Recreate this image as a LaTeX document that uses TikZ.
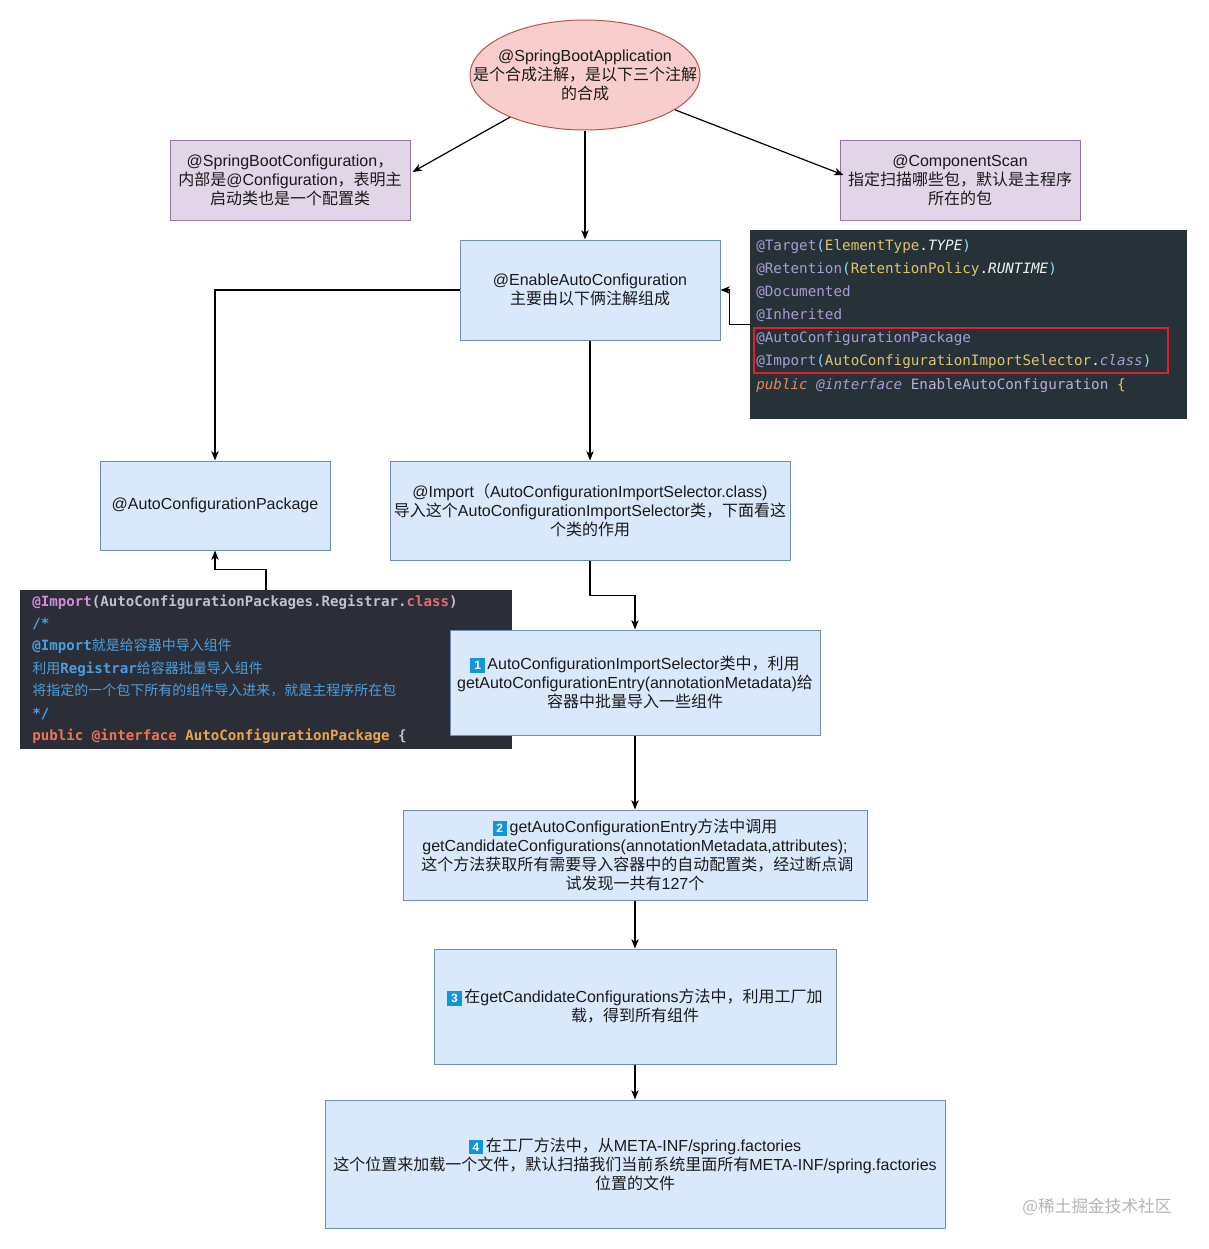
\documentclass[tikz,border=0pt]{standalone}
\usepackage{fontspec}
\setmainfont{Liberation Sans}
\newfontfamily\zhfont{Noto Sans CJK SC}
\newfontfamily\monofont{DejaVu Sans Mono}
\usetikzlibrary{arrows.meta,calc,shapes.geometric}
\definecolor{bfill}{HTML}{DAE8FC}
\definecolor{bstroke}{HTML}{6C8EBF}
\definecolor{pfill}{HTML}{E1D5E7}
\definecolor{pstroke}{HTML}{9673A6}
\definecolor{rfill}{HTML}{F8CECC}
\definecolor{rstroke}{HTML}{B85450}
\definecolor{txt}{HTML}{1A1A1A}
\definecolor{codebgA}{HTML}{263238}
\definecolor{codebgB}{HTML}{2B2E36}
\definecolor{ann}{HTML}{A99BD6}
\definecolor{par}{HTML}{89DDFF}
\definecolor{typ}{HTML}{E2C26E}
\definecolor{wht}{HTML}{EEF2F4}
\definecolor{kwo}{HTML}{E08A5E}
\definecolor{ename}{HTML}{B8B0DC}
\definecolor{redbox}{HTML}{E0202A}
\definecolor{imp}{HTML}{D58BDD}
\definecolor{gry}{HTML}{BCC3CE}
\definecolor{cls}{HTML}{E06C75}
\definecolor{cmt}{HTML}{4A9EE0}
\definecolor{kwr}{HTML}{EC7458}
\definecolor{cname}{HTML}{E8A54E}
\definecolor{badgeblue}{HTML}{1296DB}
\definecolor{wmark}{HTML}{B4B4B4}
\newcommand{\zh}[1]{{\zhfont #1}}
\newcommand{\cc}[2]{\textcolor{#1}{#2}}
\newcommand{\mainsz}{\fontsize{12}{14.3}\selectfont}
\newcommand{\badge}[1]{{\fboxsep=1pt\colorbox{badgeblue}{\rule[-1.4pt]{0pt}{9pt}\makebox[8.8pt]{\color{white}\fontsize{9}{9}\selectfont\bfseries #1}}}\,}
\begin{document}
\begin{tikzpicture}[x=0.75pt,y=-0.75pt,
  bluebox/.style={rectangle, draw=bstroke, fill=bfill, line width=0.75pt, inner sep=0pt, align=center, font=\mainsz, text=txt},
  purplebox/.style={rectangle, draw=pstroke, fill=pfill, line width=0.75pt, inner sep=0pt, align=center, font=\mainsz, text=txt},
  codeA/.style={anchor=base west, inner sep=0pt, font=\monofont\fontsize{10.7}{12}\selectfont},
  codeB/.style={anchor=base west, inner sep=0pt, font=\monofont\bfseries\fontsize{10.6}{12}\selectfont},
  arr/.style={-{Stealth[length=7pt,width=5.5pt,inset=2pt]}, line width=0.9pt, draw=black}]
\fill[white] (0,0) rectangle (1209,1249);
\useasboundingbox (0,0) rectangle (1209,1249);

% top ellipse
\node[ellipse, draw=rstroke, fill=rfill, line width=0.75pt, minimum width=172.5pt, minimum height=82.5pt, inner sep=0pt] (ell) at (585,75) {};
\node[inner sep=0pt, align=center, font=\mainsz, text=txt] (ellt) at (ell.center)
  {@SpringBootApplication\\\zh{是个合成注解，是以下三个注解}\\\zh{的合成}};

\node[purplebox, minimum width=180pt, minimum height=60pt] (sbc) at (290,180)
  {@SpringBootConfiguration\zh{，}\\\zh{内部是}@Configuration\zh{，表明主}\\\zh{启动类也是一个配置类}};
\node[purplebox, minimum width=180pt, minimum height=60pt] (cs) at (960,180)
  {@ComponentScan\\\zh{指定扫描哪些包，默认是主程序}\\\zh{所在的包}};

\node[bluebox, minimum width=195pt, minimum height=75pt] (eac) at (590,290)
  {@EnableAutoConfiguration\\\zh{主要由以下俩注解组成}};

% code block 1
\node[rectangle, fill=codebgA, minimum width=327.75pt, minimum height=141.75pt, inner sep=0pt] (code1) at (968.5,324.5) {};
\node[codeA] (c1a) at (756,250) {\cc{ann}{@Target}\cc{par}{(}\cc{typ}{ElementType}\cc{wht}{.}\cc{wht}{\itshape TYPE}\cc{par}{)}};
\node[codeA] (c1b) at (756,273) {\cc{ann}{@Retention}\cc{par}{(}\cc{typ}{RetentionPolicy}\cc{wht}{.}\cc{wht}{\itshape RUNTIME}\cc{par}{)}};
\node[codeA] (c1c) at (756,296) {\cc{ann}{@Documented}};
\node[codeA] (c1d) at (756,319) {\cc{ann}{@Inherited}};
\node[codeA] (c1e) at (756,342) {\cc{ann}{@AutoConfigurationPackage}};
\node[codeA] (c1f) at (756,365) {\cc{ann}{@Import}\cc{par}{(}\cc{typ}{AutoConfigurationImportSelector}\cc{wht}{.}\cc{ann}{\itshape class}\cc{par}{)}};
\node[codeA] (c1g) at (756,389) {\cc{kwo}{\itshape public} \cc{ann}{\itshape @interface} \cc{ename}{EnableAutoConfiguration} \cc{typ}{\{}};
\draw[redbox, line width=1.5pt] (754,328) rectangle (1168,373);

\node[bluebox, minimum width=172.5pt, minimum height=66.75pt] (acp) at (215,505.5)
  {@AutoConfigurationPackage};
\node[bluebox, minimum width=300pt, minimum height=74.25pt] (imp) at (590,510.5)
  {@Import\zh{（}AutoConfigurationImportSelector.class)\\\zh{导入这个}AutoConfigurationImportSelector\zh{类，下面看这}\\\zh{个类的作用}};

% code block 2
\node[rectangle, fill=codebgB, minimum width=369pt, minimum height=119.25pt, inner sep=0pt] (code2) at (266,669.5) {};
\node[codeB] (c2a) at (32,606) {\cc{imp}{@Import}\cc{gry}{(AutoConfigurationPackages.Registrar.}\cc{cls}{class}\cc{gry}{)}};
\node[codeB] (c2b) at (32,628.4) {\cc{cmt}{/*}};
\node[codeB] (c2c) at (32,650.8) {\cc{cmt}{@Import{\zhfont\mdseries\fontsize{10.5}{12}\selectfont 就是给容器中导入组件}}};
\node[codeB] (c2d) at (32,673.2) {\cc{cmt}{{\zhfont\mdseries\fontsize{10.5}{12}\selectfont 利用}Registrar{\zhfont\mdseries\fontsize{10.5}{12}\selectfont 给容器批量导入组件}}};
\node[codeB] (c2e) at (32,695.6) {\cc{cmt}{{\zhfont\mdseries\fontsize{10.5}{12}\selectfont 将指定的一个包下所有的组件导入进来，就是主程序所在包}}};
\node[codeB] (c2f) at (32,718) {\cc{cmt}{*/}};
\node[codeB] (c2g) at (32,740.4) {\cc{kwr}{public @interface} \cc{cname}{AutoConfigurationPackage} \cc{gry}{\{}};

\node[bluebox, minimum width=277.5pt, minimum height=78.75pt] (b1) at (635,682.5)
  {\badge{1}AutoConfigurationImportSelector\zh{类中，利用}\\getAutoConfigurationEntry(annotationMetadata)\zh{给}\\\zh{容器中批量导入一些组件}};
\node[bluebox, minimum width=348pt, minimum height=67.5pt] (b2) at (635,855)
  {\badge{2}getAutoConfigurationEntry\zh{方法中调用}\\getCandidateConfigurations(annotationMetadata,attributes);\\\hspace*{0.3em}\zh{这个方法获取所有需要导入容器中的自动配置类，经过断点调}\\\zh{试发现一共有}127\zh{个}};
\node[bluebox, minimum width=301.5pt, minimum height=86.25pt] (b3) at (635,1006.5)
  {\badge{3}\zh{在}getCandidateConfigurations\zh{方法中，利用工厂加}\\\zh{载，得到所有组件}};
\node[bluebox, minimum width=465pt, minimum height=96pt] (b4) at (635,1164)
  {\badge{4}\zh{在工厂方法中，从}META-INF/spring.factories\\\zh{这个位置来加载一个文件，默认扫描我们当前系统里面所有}META-INF/spring.factories\\\zh{位置的文件}};

\node[inner sep=0pt, text=wmark, font=\zhfont\fontsize{12.5}{14}\selectfont] (wm) at (1097,1207) {@稀土掘金技术社区};

% connectors
\draw[arr] (ell) -- ($(sbc.east)+(2,-8)$);
\draw[arr] (ell) -- ($(cs.west)+(4,-5)$);
\draw[arr] (ell.south) -- (ell.south |- eac.north);
\draw[arr] (eac.west) -| (acp.north);
\draw[arr] (eac.south) -- (imp.north);
\draw[arr] (code1.west) -- ++(-20,0) |- (eac.east);
\draw[arr] (code2.north) -- ++(0,-20) -| (acp.south);
\draw[arr] (imp.south) -- ++(0,35) -| (b1.north);
\draw[arr] (b1.south) -- (b2.north);
\draw[arr] (b2.south) -- (b3.north);
\draw[arr] (b3.south) -- (b4.north);
\end{tikzpicture}
\end{document}
